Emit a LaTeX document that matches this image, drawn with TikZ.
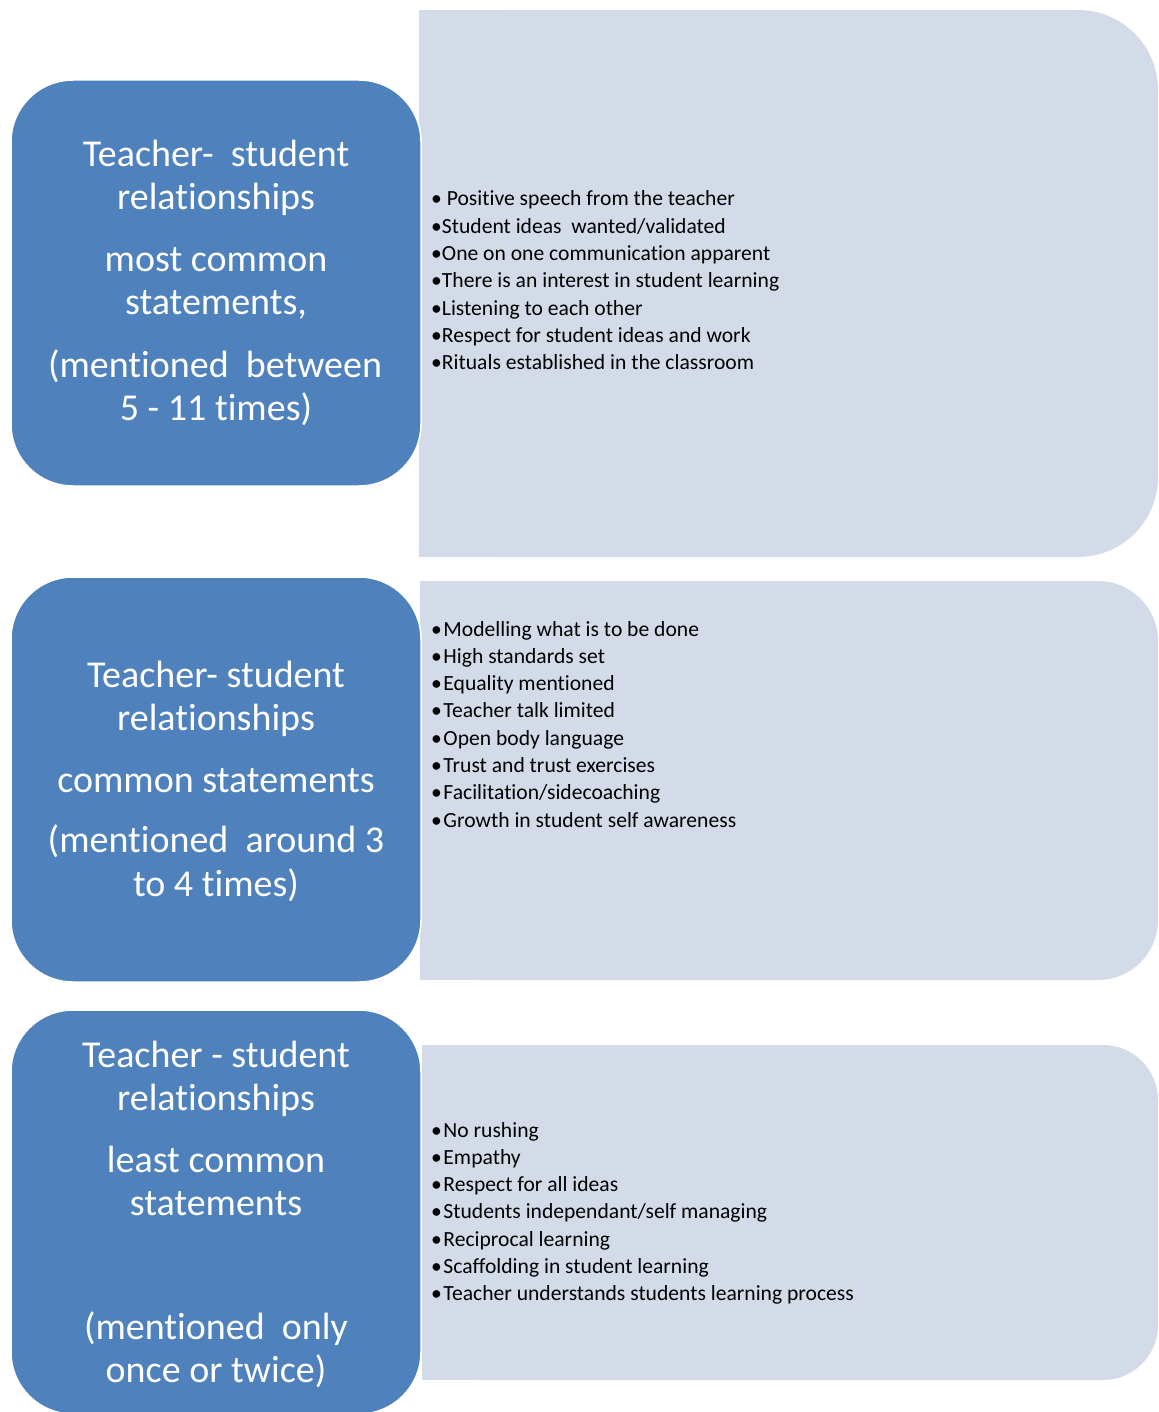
\documentclass[tikz,border=0pt]{standalone}
\usepackage{fontspec}
\setmainfont{Carlito}[Ligatures=NoCommon]
\definecolor{blueF}{RGB}{79,129,189}
\definecolor{lightF}{RGB}{212,219,232}
\begin{document}
\begin{tikzpicture}[x=1pt,y=-1pt,
  bluebox/.style={fill=blueF, draw=white, line width=1.5pt, rounded corners=62pt},
  lightbox/.style={fill=lightF, draw=none},
  head/.style={text=white, font=\fontsize{38}{43}\selectfont, anchor=base, inner sep=0pt},
  item/.style={text=black, font=\fontsize{21.6}{27}\selectfont, anchor=base west, inner sep=0pt}]
\useasboundingbox (0,0) rectangle (1158,1412);
\fill[white] (0,0) rectangle (1158,1412);

% light boxes
\node[lightbox, rounded corners=80pt, minimum width=739pt, minimum height=547pt] (l1) at (788.5,283.5) {};
\fill[lightF] (l1.north west) rectangle (l1.south);
\node[lightbox, rounded corners=60pt, minimum width=738pt, minimum height=399pt] (l2) at (789,780.5) {};
\fill[lightF] (l2.north west) rectangle (l2.south);
\node[lightbox, rounded corners=55pt, minimum width=736pt, minimum height=335pt] (l3) at (790,1212.5) {};
\fill[lightF] (l3.north west) rectangle (l3.south);

% blue boxes
\node[bluebox, minimum width=410pt, minimum height=406pt] (b1) at (216,283) {};
\node[bluebox, minimum width=410pt, minimum height=405pt] (b2) at (216,779.5) {};
\node[bluebox, minimum width=410pt, minimum height=404pt] (b3) at (216,1212) {};

% blue box texts
\node[head] (h1a) at (216,167) {Teacher-\ \ student};
\node[head] (h1b) at (216,210) {relationships};
\node[head] (h1c) at (216,272) {most common};
\node[head] (h1d) at (216,315) {statements,};
\node[head] (h1e) at (215,377) {(mentioned\ \ between};
\node[head] (h1f) at (216,420) {5 - 11 times)};

\node[head] (h2a) at (216,687) {Teacher- student};
\node[head] (h2b) at (216,730) {relationships};
\node[head] (h2c) at (216,792) {common statements};
\node[head] (h2d) at (216,852) {(mentioned\ \ around 3};
\node[head] (h2e) at (216,896) {to 4 times)};

\node[head] (h3a) at (216,1067) {Teacher - student};
\node[head] (h3b) at (216,1110) {relationships};
\node[head] (h3c) at (216,1172) {least common};
\node[head] (h3d) at (216,1215) {statements};
\node[head] (h3e) at (216,1339) {(mentioned\ \ only};
\node[head] (h3f) at (216,1382) {once or twice)};

% lists
\foreach \t [count=\i from 0] in {{• Positive speech from the teacher},
  {•Student ideas\ \ wanted/validated},
  {•One on one communication apparent},
  {•There is an interest in student learning},
  {•Listening to each other},
  {•Respect for student ideas and work},
  {•Rituals established in the classroom}}
  \node[item] (p\i) at (431,{206+27.3*\i}) {\t};

\foreach \t [count=\i from 0] in {{Modelling what is to be done},
  {High standards set},
  {Equality mentioned},
  {Teacher talk limited},
  {Open body language},
  {Trust and trust exercises},
  {Facilitation/sidecoaching},
  {Growth in student self awareness}}
  \node[item] (q\i) at (431,{636+27.3*\i}) {•\hspace{1.5pt}\t};

\foreach \t [count=\i from 0] in {{No rushing},
  {Empathy},
  {Respect for all ideas},
  {Students independant/self managing},
  {Reciprocal learning},
  {Scaffolding in student learning},
  {Teacher understands students learning process}}
  \node[item] (r\i) at (431,{1137+27.3*\i}) {•\hspace{1.5pt}\t};
\end{tikzpicture}
\end{document}
